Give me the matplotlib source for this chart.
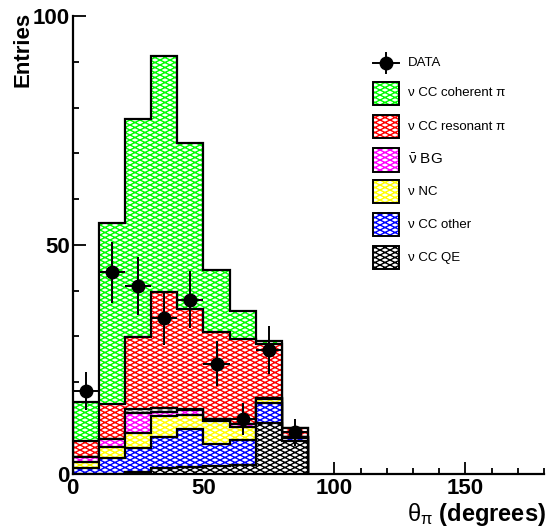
import numpy as np
import matplotlib
matplotlib.use('Agg')
import matplotlib.pyplot as plt
from matplotlib.patches import Rectangle
from matplotlib.lines import Line2D
from matplotlib.path import Path

# ---------------- data ----------------
bin_edges = [0, 10, 20, 30, 40, 50, 60, 70, 80, 90]
data_counts = [18, 44, 41, 34, 38, 24, 12, 27, 9]
data_errors = [4.2, 6.6, 6.4, 5.8, 6.2, 4.9, 3.5, 5.2, 3.0]

# stacked MC components (per-bin contributions), bottom -> top
cc_qe = [0.0, 0.0, 0.3, 1.2, 1.5, 1.7, 1.9, 11.1, 7.1]
cc_other = [1.1, 3.4, 5.3, 6.8, 8.2, 4.8, 5.4, 4.4, 0.7]
nc = [1.5, 2.5, 3.2, 4.6, 3.1, 4.9, 2.9, 0.9, 0.1]
nubar_bg = [0.9, 1.7, 4.4, 0.9, 1.1, 0.6, 0.6, 0.2, 0.0]
unlisted = [0.0, 0.0, 0.8, 0.9, 0.3, 0.0, 0.0, 0.0, 0.0]
cc_res = [3.5, 7.5, 15.8, 25.3, 21.8, 18.9, 18.7, 11.8, 2.1]
cc_coh = [8.6, 39.7, 47.7, 51.6, 36.2, 13.7, 6.0, 0.6, 0.0]

components = [cc_qe, cc_other, nc, nubar_bg, unlisted, cc_res, cc_coh]
comp_colors = ['#000000', '#0000ff', '#ffff00', '#ff00ff', '#808080', '#ff0000', '#00ff00']

legend_labels = ['DATA', '\u03bd CC coherent \u03c0', '\u03bd CC resonant \u03c0',
                 r'$\bar{\nu}$ BG', '\u03bd NC', '\u03bd CC other', '\u03bd CC QE']
legend_colors = [None, '#00ff00', '#ff0000', '#ff00ff', '#ffff00', '#0000ff', '#000000']

x_ticks = [0, 50, 100, 150]
y_ticks = [0, 50, 100]

# ---------------- style ----------------
plt.rcParams['font.family'] = ['Liberation Sans', 'DejaVu Sans']
plt.rcParams['mathtext.fontset'] = 'custom'
plt.rcParams['mathtext.rm'] = 'Liberation Sans'
plt.rcParams['mathtext.it'] = 'Liberation Sans'
plt.rcParams['mathtext.bf'] = 'Liberation Sans:bold'
plt.rcParams['hatch.linewidth'] = 1.0

# ROOT-like shallow cross hatch (wide diamonds)
try:
    import matplotlib.hatch as mhatch

    class _ShallowNE(mhatch.HatchPatternBase):
        def __init__(self, hatch, density):
            cnt = hatch.count('/') + hatch.count('x') + hatch.count('X')
            n = 20 if cnt else 0
            self.n = n
            self.num_lines = int(1.5 * n) + 1 if n else 0
            self.num_vertices = self.num_lines * 2

        def set_vertices_and_codes(self, vertices, codes):
            d = 1.0 / self.n
            c = -0.5 + d * np.arange(self.num_lines)
            vertices[0::2, 0] = 0.0
            vertices[0::2, 1] = c
            vertices[1::2, 0] = 1.0
            vertices[1::2, 1] = c + 0.5
            codes[0::2] = Path.MOVETO
            codes[1::2] = Path.LINETO

    class _ShallowSE(mhatch.HatchPatternBase):
        def __init__(self, hatch, density):
            cnt = hatch.count('\\') + hatch.count('x') + hatch.count('X')
            n = 20 if cnt else 0
            self.n = n
            self.num_lines = int(1.5 * n) + 1 if n else 0
            self.num_vertices = self.num_lines * 2

        def set_vertices_and_codes(self, vertices, codes):
            d = 1.0 / self.n
            c = d * np.arange(self.num_lines)
            vertices[0::2, 0] = 0.0
            vertices[0::2, 1] = c
            vertices[1::2, 0] = 1.0
            vertices[1::2, 1] = c - 0.5
            codes[0::2] = Path.MOVETO
            codes[1::2] = Path.LINETO

    mhatch._hatch_types = [t for t in mhatch._hatch_types
                           if t not in (mhatch.NorthEastHatch, mhatch.SouthEastHatch)] + [_ShallowNE, _ShallowSE]
    HATCH = 'xx'
except Exception:
    HATCH = 'xxx'

W, H = 555, 527
fig = plt.figure(figsize=(W / 100, H / 100), dpi=100)
ax_l, ax_r, ax_t, ax_b = 72.5, 544.0, 16.3, 473.5
ax = fig.add_axes([ax_l / W, 1 - ax_b / H, (ax_r - ax_l) / W, (ax_b - ax_t) / H])

edges = np.array(bin_edges, dtype=float)
cum = np.cumsum(np.array(components, dtype=float), axis=0)

# draw from top of stack down so lower histograms overlay higher ones (ROOT THStack style)
n_comp = len(components)
for j, k in enumerate(range(n_comp - 1, -1, -1)):
    ax.stairs(cum[k], edges, baseline=0, fill=True, facecolor='white',
              edgecolor=comp_colors[k], hatch=HATCH, linewidth=0, zorder=2 + 2 * j)
    ax.stairs(cum[k], edges, baseline=0, fill=False, color='black',
              linewidth=1.6, zorder=3 + 2 * j)

centers = 0.5 * (edges[:-1] + edges[1:])
half_w = 0.5 * (edges[1:] - edges[:-1])
ax.errorbar(centers, data_counts, yerr=data_errors, xerr=half_w, fmt='o', color='black',
            markersize=9, elinewidth=1.4, capsize=0, zorder=60)

ax.set_xlim(0, 180)
ax.set_ylim(0, 100)
ax.set_xticks(x_ticks)
ax.set_yticks(y_ticks)
ax.set_xticks(np.arange(0, 181, 10), minor=True)
ax.set_yticks(np.arange(0, 101, 10), minor=True)
ax.tick_params(axis='both', which='both', direction='in', width=1.3, labelsize=16, pad=3)
ax.tick_params(axis='x', which='major', length=9)
ax.tick_params(axis='x', which='minor', length=4)
ax.tick_params(axis='y', which='major', length=9.5)
ax.tick_params(axis='y', which='minor', length=4.5)
ax.tick_params(axis='y', which='major', pad=2)
for lab in ax.get_xticklabels() + ax.get_yticklabels():
    lab.set_fontweight('bold')
for s in ['top', 'right']:
    ax.spines[s].set_visible(False)
for s in ['left', 'bottom']:
    ax.spines[s].set_linewidth(1.6)
    ax.spines[s].set_zorder(80)

# axis titles
fig.text(22.5 / W, 1 - 12 / H, 'Entries', rotation=90, ha='center', va='top',
         fontsize=16, fontweight='bold')
fig.text(546 / W, 1 - 521.5 / H, r'$\theta_{\pi}$ (degrees)', ha='right', va='baseline',
         fontsize=17, fontweight='bold')

# ---------------- legend (manual, ROOT-like) ----------------
def fx(px):
    return px / W

def fy(py):
    return 1 - py / H

row_y = [62.7, 93.3, 126.7, 160.0, 191.7, 224.7, 257.7]
box_l, box_r, box_h = 373.0, 399.0, 23.0
text_x = 408.0
for i, (lab, col) in enumerate(zip(legend_labels, legend_colors)):
    yc = row_y[i]
    if col is None:
        xc = 0.5 * (box_l + box_r)
        fig.add_artist(Line2D([fx(box_l), fx(box_r)], [fy(yc), fy(yc)], color='black', lw=1.4))
        fig.add_artist(Line2D([fx(xc), fx(xc)], [fy(yc - 10), fy(yc + 10)], color='black', lw=1.4))
        fig.add_artist(Line2D([fx(xc)], [fy(yc)], marker='o', color='black', markersize=9))
    else:
        r = Rectangle((fx(box_l), fy(yc + box_h / 2)), fx(box_r) - fx(box_l), box_h / H,
                      facecolor='white', edgecolor=col, hatch=HATCH, linewidth=0,
                      transform=fig.transFigure)
        fig.add_artist(r)
        rb = Rectangle((fx(box_l), fy(yc + box_h / 2)), fx(box_r) - fx(box_l), box_h / H,
                       fill=False, edgecolor='black', linewidth=1.4, transform=fig.transFigure)
        fig.add_artist(rb)
    fs = 11 if lab.startswith('$') else 9.5
    fig.text(fx(text_x), fy(yc), lab, ha='left', va='center', fontsize=fs)

fig.savefig('out.png', dpi=100)
